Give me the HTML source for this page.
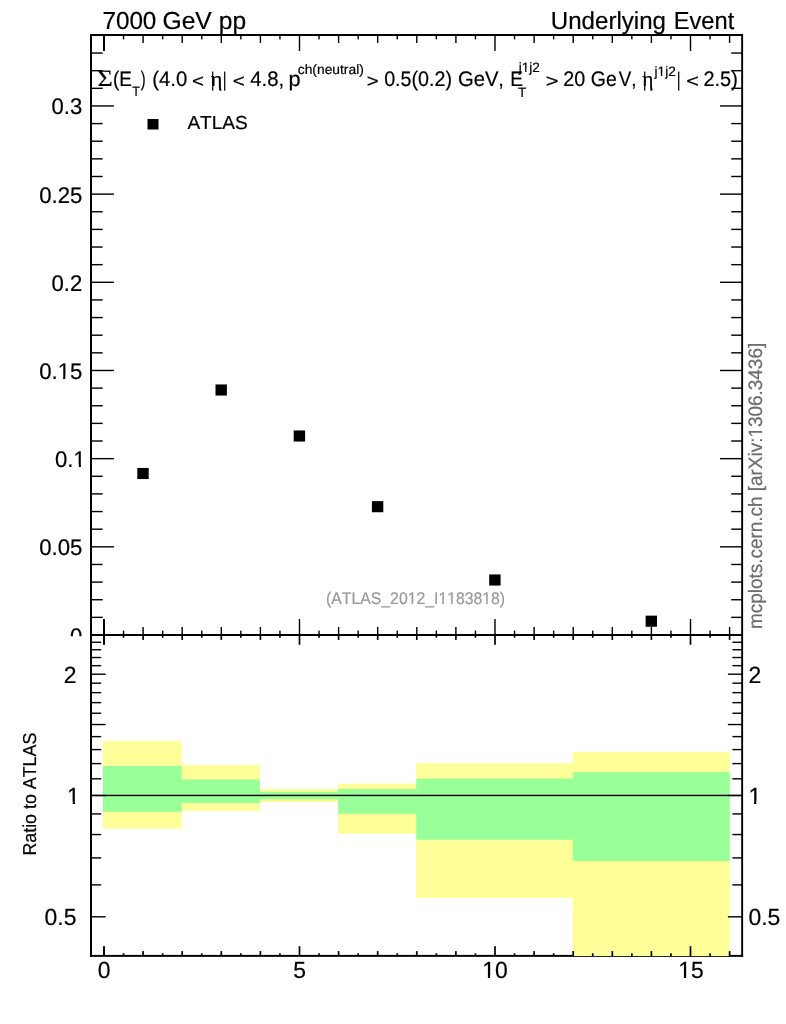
<!DOCTYPE html>
<html lang="en"><head><meta charset="utf-8"><title>Underlying Event - 7000 GeV pp</title>
<style>
html,body{margin:0;padding:0;background:#fff;}
body{width:786px;height:1024px;overflow:hidden;}
svg{display:block;font-family:"Liberation Sans",sans-serif;}
svg text{white-space:pre;font-kerning:none;text-rendering:geometricPrecision;stroke-width:0.2px;}
</style></head><body>
<svg width="786" height="1024" viewBox="0 0 786 1024">
<rect x="0" y="0" width="786" height="1024" fill="#fff"/>
<defs><clipPath id="mc"><rect x="0" y="0" width="786" height="636.2"/></clipPath></defs>
<rect x="90.00" y="34.00" width="2.00" height="923.00" fill="#000"/>
<rect x="741.20" y="34.00" width="1.90" height="923.00" fill="#000"/>
<rect x="90.00" y="34.00" width="653.00" height="2.00" fill="#000"/>
<rect x="90.00" y="634.00" width="653.00" height="2.00" fill="#000"/>
<rect x="90.00" y="954.90" width="653.10" height="1.95" fill="#000"/>
<polygon fill="#ffff99" points="103.00,741.00 181.70,741.00 181.70,765.00 259.90,765.00 259.90,788.90 338.10,788.90 338.10,783.70 416.30,783.70 416.30,763.20 572.70,763.20 572.70,752.10 729.80,752.10 729.80,956.00 572.70,956.00 572.70,897.90 416.30,897.90 416.30,833.80 338.10,833.80 338.10,801.90 259.90,801.90 259.90,810.90 181.70,810.90 181.70,828.80 103.00,828.80"/>
<polygon fill="#99ff99" points="103.00,766.00 181.70,766.00 181.70,779.60 259.90,779.60 259.90,791.70 338.10,791.70 338.10,788.90 416.30,788.90 416.30,778.40 572.70,778.40 572.70,772.20 729.80,772.20 729.80,860.90 572.70,860.90 572.70,839.80 416.30,839.80 416.30,813.80 338.10,813.80 338.10,799.20 259.90,799.20 259.90,802.90 181.70,802.90 181.70,811.70 103.00,811.70"/>
<rect x="91.00" y="794.75" width="651.00" height="1.40" fill="#000"/>
<rect x="103.00" y="35.00" width="2.00" height="16.00" fill="#000"/>
<rect x="103.00" y="619.00" width="2.00" height="16.00" fill="#000"/>
<rect x="103.00" y="635.00" width="2.00" height="9.80" fill="#000"/>
<rect x="103.00" y="946.20" width="2.00" height="9.80" fill="#000"/>
<rect x="122.85" y="35.00" width="1.40" height="4.40" fill="#000"/>
<rect x="122.85" y="630.60" width="1.40" height="4.40" fill="#000"/>
<rect x="122.70" y="635.00" width="1.70" height="2.70" fill="#000"/>
<rect x="122.70" y="953.30" width="1.70" height="2.70" fill="#000"/>
<rect x="142.40" y="35.00" width="1.40" height="8.00" fill="#000"/>
<rect x="142.40" y="627.00" width="1.40" height="8.00" fill="#000"/>
<rect x="142.25" y="635.00" width="1.70" height="4.90" fill="#000"/>
<rect x="142.25" y="951.10" width="1.70" height="4.90" fill="#000"/>
<rect x="161.95" y="35.00" width="1.40" height="4.40" fill="#000"/>
<rect x="161.95" y="630.60" width="1.40" height="4.40" fill="#000"/>
<rect x="161.80" y="635.00" width="1.70" height="2.70" fill="#000"/>
<rect x="161.80" y="953.30" width="1.70" height="2.70" fill="#000"/>
<rect x="181.50" y="35.00" width="1.40" height="8.00" fill="#000"/>
<rect x="181.50" y="627.00" width="1.40" height="8.00" fill="#000"/>
<rect x="181.35" y="635.00" width="1.70" height="4.90" fill="#000"/>
<rect x="181.35" y="951.10" width="1.70" height="4.90" fill="#000"/>
<rect x="201.05" y="35.00" width="1.40" height="4.40" fill="#000"/>
<rect x="201.05" y="630.60" width="1.40" height="4.40" fill="#000"/>
<rect x="200.90" y="635.00" width="1.70" height="2.70" fill="#000"/>
<rect x="200.90" y="953.30" width="1.70" height="2.70" fill="#000"/>
<rect x="220.60" y="35.00" width="1.40" height="8.00" fill="#000"/>
<rect x="220.60" y="627.00" width="1.40" height="8.00" fill="#000"/>
<rect x="220.45" y="635.00" width="1.70" height="4.90" fill="#000"/>
<rect x="220.45" y="951.10" width="1.70" height="4.90" fill="#000"/>
<rect x="240.15" y="35.00" width="1.40" height="4.40" fill="#000"/>
<rect x="240.15" y="630.60" width="1.40" height="4.40" fill="#000"/>
<rect x="240.00" y="635.00" width="1.70" height="2.70" fill="#000"/>
<rect x="240.00" y="953.30" width="1.70" height="2.70" fill="#000"/>
<rect x="259.70" y="35.00" width="1.40" height="8.00" fill="#000"/>
<rect x="259.70" y="627.00" width="1.40" height="8.00" fill="#000"/>
<rect x="259.55" y="635.00" width="1.70" height="4.90" fill="#000"/>
<rect x="259.55" y="951.10" width="1.70" height="4.90" fill="#000"/>
<rect x="279.25" y="35.00" width="1.40" height="4.40" fill="#000"/>
<rect x="279.25" y="630.60" width="1.40" height="4.40" fill="#000"/>
<rect x="279.10" y="635.00" width="1.70" height="2.70" fill="#000"/>
<rect x="279.10" y="953.30" width="1.70" height="2.70" fill="#000"/>
<rect x="298.80" y="35.00" width="1.40" height="16.00" fill="#000"/>
<rect x="298.80" y="619.00" width="1.40" height="16.00" fill="#000"/>
<rect x="298.65" y="635.00" width="1.70" height="9.80" fill="#000"/>
<rect x="298.65" y="946.20" width="1.70" height="9.80" fill="#000"/>
<rect x="318.35" y="35.00" width="1.40" height="4.40" fill="#000"/>
<rect x="318.35" y="630.60" width="1.40" height="4.40" fill="#000"/>
<rect x="318.20" y="635.00" width="1.70" height="2.70" fill="#000"/>
<rect x="318.20" y="953.30" width="1.70" height="2.70" fill="#000"/>
<rect x="337.90" y="35.00" width="1.40" height="8.00" fill="#000"/>
<rect x="337.90" y="627.00" width="1.40" height="8.00" fill="#000"/>
<rect x="337.75" y="635.00" width="1.70" height="4.90" fill="#000"/>
<rect x="337.75" y="951.10" width="1.70" height="4.90" fill="#000"/>
<rect x="357.45" y="35.00" width="1.40" height="4.40" fill="#000"/>
<rect x="357.45" y="630.60" width="1.40" height="4.40" fill="#000"/>
<rect x="357.30" y="635.00" width="1.70" height="2.70" fill="#000"/>
<rect x="357.30" y="953.30" width="1.70" height="2.70" fill="#000"/>
<rect x="377.00" y="35.00" width="1.40" height="8.00" fill="#000"/>
<rect x="377.00" y="627.00" width="1.40" height="8.00" fill="#000"/>
<rect x="376.85" y="635.00" width="1.70" height="4.90" fill="#000"/>
<rect x="376.85" y="951.10" width="1.70" height="4.90" fill="#000"/>
<rect x="396.55" y="35.00" width="1.40" height="4.40" fill="#000"/>
<rect x="396.55" y="630.60" width="1.40" height="4.40" fill="#000"/>
<rect x="396.40" y="635.00" width="1.70" height="2.70" fill="#000"/>
<rect x="396.40" y="953.30" width="1.70" height="2.70" fill="#000"/>
<rect x="416.10" y="35.00" width="1.40" height="8.00" fill="#000"/>
<rect x="416.10" y="627.00" width="1.40" height="8.00" fill="#000"/>
<rect x="415.95" y="635.00" width="1.70" height="4.90" fill="#000"/>
<rect x="415.95" y="951.10" width="1.70" height="4.90" fill="#000"/>
<rect x="435.65" y="35.00" width="1.40" height="4.40" fill="#000"/>
<rect x="435.65" y="630.60" width="1.40" height="4.40" fill="#000"/>
<rect x="435.50" y="635.00" width="1.70" height="2.70" fill="#000"/>
<rect x="435.50" y="953.30" width="1.70" height="2.70" fill="#000"/>
<rect x="455.20" y="35.00" width="1.40" height="8.00" fill="#000"/>
<rect x="455.20" y="627.00" width="1.40" height="8.00" fill="#000"/>
<rect x="455.05" y="635.00" width="1.70" height="4.90" fill="#000"/>
<rect x="455.05" y="951.10" width="1.70" height="4.90" fill="#000"/>
<rect x="474.75" y="35.00" width="1.40" height="4.40" fill="#000"/>
<rect x="474.75" y="630.60" width="1.40" height="4.40" fill="#000"/>
<rect x="474.60" y="635.00" width="1.70" height="2.70" fill="#000"/>
<rect x="474.60" y="953.30" width="1.70" height="2.70" fill="#000"/>
<rect x="494.30" y="35.00" width="1.40" height="16.00" fill="#000"/>
<rect x="494.30" y="619.00" width="1.40" height="16.00" fill="#000"/>
<rect x="494.15" y="635.00" width="1.70" height="9.80" fill="#000"/>
<rect x="494.15" y="946.20" width="1.70" height="9.80" fill="#000"/>
<rect x="513.85" y="35.00" width="1.40" height="4.40" fill="#000"/>
<rect x="513.85" y="630.60" width="1.40" height="4.40" fill="#000"/>
<rect x="513.70" y="635.00" width="1.70" height="2.70" fill="#000"/>
<rect x="513.70" y="953.30" width="1.70" height="2.70" fill="#000"/>
<rect x="533.40" y="35.00" width="1.40" height="8.00" fill="#000"/>
<rect x="533.40" y="627.00" width="1.40" height="8.00" fill="#000"/>
<rect x="533.25" y="635.00" width="1.70" height="4.90" fill="#000"/>
<rect x="533.25" y="951.10" width="1.70" height="4.90" fill="#000"/>
<rect x="552.95" y="35.00" width="1.40" height="4.40" fill="#000"/>
<rect x="552.95" y="630.60" width="1.40" height="4.40" fill="#000"/>
<rect x="552.80" y="635.00" width="1.70" height="2.70" fill="#000"/>
<rect x="552.80" y="953.30" width="1.70" height="2.70" fill="#000"/>
<rect x="572.50" y="35.00" width="1.40" height="8.00" fill="#000"/>
<rect x="572.50" y="627.00" width="1.40" height="8.00" fill="#000"/>
<rect x="572.35" y="635.00" width="1.70" height="4.90" fill="#000"/>
<rect x="572.35" y="951.10" width="1.70" height="4.90" fill="#000"/>
<rect x="592.05" y="35.00" width="1.40" height="4.40" fill="#000"/>
<rect x="592.05" y="630.60" width="1.40" height="4.40" fill="#000"/>
<rect x="591.90" y="635.00" width="1.70" height="2.70" fill="#000"/>
<rect x="591.90" y="953.30" width="1.70" height="2.70" fill="#000"/>
<rect x="611.60" y="35.00" width="1.40" height="8.00" fill="#000"/>
<rect x="611.60" y="627.00" width="1.40" height="8.00" fill="#000"/>
<rect x="611.45" y="635.00" width="1.70" height="4.90" fill="#000"/>
<rect x="611.45" y="951.10" width="1.70" height="4.90" fill="#000"/>
<rect x="631.15" y="35.00" width="1.40" height="4.40" fill="#000"/>
<rect x="631.15" y="630.60" width="1.40" height="4.40" fill="#000"/>
<rect x="631.00" y="635.00" width="1.70" height="2.70" fill="#000"/>
<rect x="631.00" y="953.30" width="1.70" height="2.70" fill="#000"/>
<rect x="650.70" y="35.00" width="1.40" height="8.00" fill="#000"/>
<rect x="650.70" y="627.00" width="1.40" height="8.00" fill="#000"/>
<rect x="650.55" y="635.00" width="1.70" height="4.90" fill="#000"/>
<rect x="650.55" y="951.10" width="1.70" height="4.90" fill="#000"/>
<rect x="670.25" y="35.00" width="1.40" height="4.40" fill="#000"/>
<rect x="670.25" y="630.60" width="1.40" height="4.40" fill="#000"/>
<rect x="670.10" y="635.00" width="1.70" height="2.70" fill="#000"/>
<rect x="670.10" y="953.30" width="1.70" height="2.70" fill="#000"/>
<rect x="689.80" y="35.00" width="1.40" height="16.00" fill="#000"/>
<rect x="689.80" y="619.00" width="1.40" height="16.00" fill="#000"/>
<rect x="689.65" y="635.00" width="1.70" height="9.80" fill="#000"/>
<rect x="689.65" y="946.20" width="1.70" height="9.80" fill="#000"/>
<rect x="709.35" y="35.00" width="1.40" height="4.40" fill="#000"/>
<rect x="709.35" y="630.60" width="1.40" height="4.40" fill="#000"/>
<rect x="709.20" y="635.00" width="1.70" height="2.70" fill="#000"/>
<rect x="709.20" y="953.30" width="1.70" height="2.70" fill="#000"/>
<rect x="728.90" y="35.00" width="1.40" height="8.00" fill="#000"/>
<rect x="728.90" y="627.00" width="1.40" height="8.00" fill="#000"/>
<rect x="728.75" y="635.00" width="1.70" height="4.90" fill="#000"/>
<rect x="728.75" y="951.10" width="1.70" height="4.90" fill="#000"/>
<rect x="91.00" y="634.30" width="22.90" height="1.40" fill="#000"/>
<rect x="720.00" y="634.30" width="22.00" height="1.40" fill="#000"/>
<rect x="91.00" y="616.66" width="11.70" height="1.40" fill="#000"/>
<rect x="731.20" y="616.66" width="10.80" height="1.40" fill="#000"/>
<rect x="91.00" y="599.03" width="11.70" height="1.40" fill="#000"/>
<rect x="731.20" y="599.03" width="10.80" height="1.40" fill="#000"/>
<rect x="91.00" y="581.39" width="11.70" height="1.40" fill="#000"/>
<rect x="731.20" y="581.39" width="10.80" height="1.40" fill="#000"/>
<rect x="91.00" y="563.76" width="11.70" height="1.40" fill="#000"/>
<rect x="731.20" y="563.76" width="10.80" height="1.40" fill="#000"/>
<rect x="91.00" y="546.12" width="22.90" height="1.40" fill="#000"/>
<rect x="720.00" y="546.12" width="22.00" height="1.40" fill="#000"/>
<rect x="91.00" y="528.49" width="11.70" height="1.40" fill="#000"/>
<rect x="731.20" y="528.49" width="10.80" height="1.40" fill="#000"/>
<rect x="91.00" y="510.86" width="11.70" height="1.40" fill="#000"/>
<rect x="731.20" y="510.86" width="10.80" height="1.40" fill="#000"/>
<rect x="91.00" y="493.22" width="11.70" height="1.40" fill="#000"/>
<rect x="731.20" y="493.22" width="10.80" height="1.40" fill="#000"/>
<rect x="91.00" y="475.58" width="11.70" height="1.40" fill="#000"/>
<rect x="731.20" y="475.58" width="10.80" height="1.40" fill="#000"/>
<rect x="91.00" y="457.95" width="22.90" height="1.40" fill="#000"/>
<rect x="720.00" y="457.95" width="22.00" height="1.40" fill="#000"/>
<rect x="91.00" y="440.31" width="11.70" height="1.40" fill="#000"/>
<rect x="731.20" y="440.31" width="10.80" height="1.40" fill="#000"/>
<rect x="91.00" y="422.68" width="11.70" height="1.40" fill="#000"/>
<rect x="731.20" y="422.68" width="10.80" height="1.40" fill="#000"/>
<rect x="91.00" y="405.05" width="11.70" height="1.40" fill="#000"/>
<rect x="731.20" y="405.05" width="10.80" height="1.40" fill="#000"/>
<rect x="91.00" y="387.41" width="11.70" height="1.40" fill="#000"/>
<rect x="731.20" y="387.41" width="10.80" height="1.40" fill="#000"/>
<rect x="91.00" y="369.78" width="22.90" height="1.40" fill="#000"/>
<rect x="720.00" y="369.78" width="22.00" height="1.40" fill="#000"/>
<rect x="91.00" y="352.14" width="11.70" height="1.40" fill="#000"/>
<rect x="731.20" y="352.14" width="10.80" height="1.40" fill="#000"/>
<rect x="91.00" y="334.50" width="11.70" height="1.40" fill="#000"/>
<rect x="731.20" y="334.50" width="10.80" height="1.40" fill="#000"/>
<rect x="91.00" y="316.87" width="11.70" height="1.40" fill="#000"/>
<rect x="731.20" y="316.87" width="10.80" height="1.40" fill="#000"/>
<rect x="91.00" y="299.24" width="11.70" height="1.40" fill="#000"/>
<rect x="731.20" y="299.24" width="10.80" height="1.40" fill="#000"/>
<rect x="91.00" y="281.60" width="22.90" height="1.40" fill="#000"/>
<rect x="720.00" y="281.60" width="22.00" height="1.40" fill="#000"/>
<rect x="91.00" y="263.97" width="11.70" height="1.40" fill="#000"/>
<rect x="731.20" y="263.97" width="10.80" height="1.40" fill="#000"/>
<rect x="91.00" y="246.33" width="11.70" height="1.40" fill="#000"/>
<rect x="731.20" y="246.33" width="10.80" height="1.40" fill="#000"/>
<rect x="91.00" y="228.69" width="11.70" height="1.40" fill="#000"/>
<rect x="731.20" y="228.69" width="10.80" height="1.40" fill="#000"/>
<rect x="91.00" y="211.06" width="11.70" height="1.40" fill="#000"/>
<rect x="731.20" y="211.06" width="10.80" height="1.40" fill="#000"/>
<rect x="91.00" y="193.43" width="22.90" height="1.40" fill="#000"/>
<rect x="720.00" y="193.43" width="22.00" height="1.40" fill="#000"/>
<rect x="91.00" y="175.79" width="11.70" height="1.40" fill="#000"/>
<rect x="731.20" y="175.79" width="10.80" height="1.40" fill="#000"/>
<rect x="91.00" y="158.15" width="11.70" height="1.40" fill="#000"/>
<rect x="731.20" y="158.15" width="10.80" height="1.40" fill="#000"/>
<rect x="91.00" y="140.52" width="11.70" height="1.40" fill="#000"/>
<rect x="731.20" y="140.52" width="10.80" height="1.40" fill="#000"/>
<rect x="91.00" y="122.89" width="11.70" height="1.40" fill="#000"/>
<rect x="731.20" y="122.89" width="10.80" height="1.40" fill="#000"/>
<rect x="91.00" y="105.25" width="22.90" height="1.40" fill="#000"/>
<rect x="720.00" y="105.25" width="22.00" height="1.40" fill="#000"/>
<rect x="91.00" y="87.62" width="11.70" height="1.40" fill="#000"/>
<rect x="731.20" y="87.62" width="10.80" height="1.40" fill="#000"/>
<rect x="91.00" y="69.98" width="11.70" height="1.40" fill="#000"/>
<rect x="731.20" y="69.98" width="10.80" height="1.40" fill="#000"/>
<rect x="91.00" y="52.34" width="11.70" height="1.40" fill="#000"/>
<rect x="731.20" y="52.34" width="10.80" height="1.40" fill="#000"/>
<rect x="91.00" y="916.10" width="14.70" height="1.40" fill="#000"/>
<rect x="727.90" y="916.10" width="14.10" height="1.40" fill="#000"/>
<rect x="91.00" y="884.19" width="10.20" height="1.40" fill="#000"/>
<rect x="732.40" y="884.19" width="9.60" height="1.40" fill="#000"/>
<rect x="91.00" y="857.22" width="10.20" height="1.40" fill="#000"/>
<rect x="732.40" y="857.22" width="9.60" height="1.40" fill="#000"/>
<rect x="91.00" y="833.85" width="10.20" height="1.40" fill="#000"/>
<rect x="732.40" y="833.85" width="9.60" height="1.40" fill="#000"/>
<rect x="91.00" y="813.24" width="10.20" height="1.40" fill="#000"/>
<rect x="732.40" y="813.24" width="9.60" height="1.40" fill="#000"/>
<rect x="91.00" y="794.80" width="14.70" height="1.40" fill="#000"/>
<rect x="727.90" y="794.80" width="14.10" height="1.40" fill="#000"/>
<rect x="91.00" y="778.12" width="10.20" height="1.40" fill="#000"/>
<rect x="732.40" y="778.12" width="9.60" height="1.40" fill="#000"/>
<rect x="91.00" y="762.89" width="10.20" height="1.40" fill="#000"/>
<rect x="732.40" y="762.89" width="9.60" height="1.40" fill="#000"/>
<rect x="91.00" y="748.89" width="10.20" height="1.40" fill="#000"/>
<rect x="732.40" y="748.89" width="9.60" height="1.40" fill="#000"/>
<rect x="91.00" y="735.92" width="10.20" height="1.40" fill="#000"/>
<rect x="732.40" y="735.92" width="9.60" height="1.40" fill="#000"/>
<rect x="91.00" y="723.84" width="14.70" height="1.40" fill="#000"/>
<rect x="727.90" y="723.84" width="14.10" height="1.40" fill="#000"/>
<rect x="91.00" y="712.55" width="10.20" height="1.40" fill="#000"/>
<rect x="732.40" y="712.55" width="9.60" height="1.40" fill="#000"/>
<rect x="91.00" y="701.94" width="10.20" height="1.40" fill="#000"/>
<rect x="732.40" y="701.94" width="9.60" height="1.40" fill="#000"/>
<rect x="91.00" y="691.94" width="10.20" height="1.40" fill="#000"/>
<rect x="732.40" y="691.94" width="9.60" height="1.40" fill="#000"/>
<rect x="91.00" y="682.48" width="10.20" height="1.40" fill="#000"/>
<rect x="732.40" y="682.48" width="9.60" height="1.40" fill="#000"/>
<rect x="91.00" y="673.50" width="14.70" height="1.40" fill="#000"/>
<rect x="727.90" y="673.50" width="14.10" height="1.40" fill="#000"/>
<rect x="91.00" y="664.96" width="10.20" height="1.40" fill="#000"/>
<rect x="732.40" y="664.96" width="9.60" height="1.40" fill="#000"/>
<rect x="91.00" y="656.82" width="10.20" height="1.40" fill="#000"/>
<rect x="732.40" y="656.82" width="9.60" height="1.40" fill="#000"/>
<rect x="91.00" y="649.04" width="10.20" height="1.40" fill="#000"/>
<rect x="732.40" y="649.04" width="9.60" height="1.40" fill="#000"/>
<rect x="91.00" y="641.59" width="10.20" height="1.40" fill="#000"/>
<rect x="732.40" y="641.59" width="9.60" height="1.40" fill="#000"/>
<rect x="137.30" y="467.95" width="11.40" height="11.10" fill="#000"/>
<rect x="215.50" y="384.45" width="11.40" height="11.10" fill="#000"/>
<rect x="293.70" y="430.45" width="11.40" height="11.10" fill="#000"/>
<rect x="371.90" y="501.15" width="11.40" height="11.10" fill="#000"/>
<rect x="489.20" y="574.45" width="11.40" height="11.10" fill="#000"/>
<rect x="645.60" y="615.65" width="11.40" height="11.10" fill="#000"/>
<rect x="147.50" y="119.00" width="11.00" height="10.50" fill="#000"/>
<text x="82.30" y="114.45" font-size="22.60" text-anchor="end" fill="#000" stroke="#000" textLength="30.79" lengthAdjust="spacingAndGlyphs" clip-path="url(#mc)">0.3</text>
<text x="82.30" y="202.62" font-size="22.60" text-anchor="end" fill="#000" stroke="#000" textLength="43.11" lengthAdjust="spacingAndGlyphs" clip-path="url(#mc)">0.25</text>
<text x="82.30" y="290.80" font-size="22.60" text-anchor="end" fill="#000" stroke="#000" textLength="30.79" lengthAdjust="spacingAndGlyphs" clip-path="url(#mc)">0.2</text>
<text x="82.30" y="378.98" font-size="22.60" text-anchor="end" fill="#000" stroke="#000" textLength="43.11" lengthAdjust="spacingAndGlyphs" clip-path="url(#mc)">0.15</text>
<rect x="58.15" y="376.49" width="4.96" height="3.49" fill="#fff"/>
<rect x="65.31" y="376.49" width="4.91" height="3.49" fill="#fff"/>
<text x="85.70" y="467.15" font-size="22.60" text-anchor="end" fill="#000" stroke="#000" textLength="30.79" lengthAdjust="spacingAndGlyphs" clip-path="url(#mc)">0.1</text>
<rect x="73.87" y="464.66" width="4.96" height="3.49" fill="#fff"/>
<rect x="81.03" y="464.66" width="4.91" height="3.49" fill="#fff"/>
<text x="82.30" y="555.33" font-size="22.60" text-anchor="end" fill="#000" stroke="#000" textLength="43.11" lengthAdjust="spacingAndGlyphs" clip-path="url(#mc)">0.05</text>
<text x="82.30" y="643.50" font-size="22.60" text-anchor="end" fill="#000" stroke="#000" textLength="12.32" lengthAdjust="spacingAndGlyphs" clip-path="url(#mc)">0</text>
<text x="76.40" y="682.70" font-size="23.40" text-anchor="end" fill="#000" stroke="#000" textLength="12.75" lengthAdjust="spacingAndGlyphs">2</text>
<text x="748.40" y="682.70" font-size="23.40" text-anchor="start" fill="#000" stroke="#000" textLength="12.75" lengthAdjust="spacingAndGlyphs">2</text>
<text x="79.80" y="804.00" font-size="23.40" text-anchor="end" fill="#000" stroke="#000" textLength="12.75" lengthAdjust="spacingAndGlyphs">1</text>
<rect x="67.59" y="801.45" width="5.10" height="3.55" fill="#fff"/>
<rect x="74.96" y="801.45" width="5.04" height="3.55" fill="#fff"/>
<text x="748.40" y="804.00" font-size="23.40" text-anchor="start" fill="#000" stroke="#000" textLength="12.75" lengthAdjust="spacingAndGlyphs">1</text>
<rect x="748.95" y="801.45" width="5.10" height="3.55" fill="#fff"/>
<rect x="756.31" y="801.45" width="5.04" height="3.55" fill="#fff"/>
<text x="76.40" y="925.30" font-size="23.40" text-anchor="end" fill="#000" stroke="#000" textLength="31.88" lengthAdjust="spacingAndGlyphs">0.5</text>
<text x="748.40" y="925.30" font-size="23.40" text-anchor="start" fill="#000" stroke="#000" textLength="31.88" lengthAdjust="spacingAndGlyphs">0.5</text>
<text x="104.00" y="977.90" font-size="23.40" text-anchor="middle" fill="#000" stroke="#000" textLength="12.75" lengthAdjust="spacingAndGlyphs">0</text>
<text x="299.50" y="977.90" font-size="23.40" text-anchor="middle" fill="#000" stroke="#000" textLength="12.75" lengthAdjust="spacingAndGlyphs">5</text>
<text x="495.00" y="977.90" font-size="23.40" text-anchor="middle" fill="#000" stroke="#000" textLength="25.51" lengthAdjust="spacingAndGlyphs">10</text>
<rect x="482.79" y="975.35" width="5.10" height="3.55" fill="#fff"/>
<rect x="490.16" y="975.35" width="5.04" height="3.55" fill="#fff"/>
<text x="691.00" y="977.90" font-size="23.40" text-anchor="middle" fill="#000" stroke="#000" textLength="25.51" lengthAdjust="spacingAndGlyphs">15</text>
<rect x="678.79" y="975.35" width="5.10" height="3.55" fill="#fff"/>
<rect x="686.16" y="975.35" width="5.04" height="3.55" fill="#fff"/>
<text x="187.40" y="129.40" font-size="18.9" fill="#000" stroke="#000" textLength="60.41" lengthAdjust="spacingAndGlyphs">ATLAS</text>
<text x="102.42" y="29.00" font-size="24.6" fill="#000" stroke="#000" textLength="53.95" lengthAdjust="spacingAndGlyphs">7000</text>
<text x="162.50" y="29.00" font-size="24.6" fill="#000" stroke="#000" textLength="49.31" lengthAdjust="spacingAndGlyphs">GeV</text>
<text x="218.80" y="29.00" font-size="24.6" fill="#000" stroke="#000" textLength="27.38" lengthAdjust="spacingAndGlyphs">pp</text>
<text x="550.84" y="29.00" font-size="24.6" fill="#000" stroke="#000" textLength="115.11" lengthAdjust="spacingAndGlyphs">Underlying</text>
<text x="673.67" y="29.00" font-size="24.6" fill="#000" stroke="#000" textLength="60.55" lengthAdjust="spacingAndGlyphs">Event</text>
<text x="326.06" y="604.20" font-size="16.8" fill="#999" stroke="#999" textLength="179.07" lengthAdjust="spacingAndGlyphs">(ATLAS_2012_I1183818)</text>
<rect x="408.08" y="602.14" width="3.45" height="3.06" fill="#fff"/>
<rect x="413.17" y="602.14" width="3.24" height="3.06" fill="#fff"/>
<rect x="438.81" y="602.14" width="3.45" height="3.06" fill="#fff"/>
<rect x="443.90" y="602.14" width="3.24" height="3.06" fill="#fff"/>
<rect x="447.59" y="602.14" width="3.45" height="3.06" fill="#fff"/>
<rect x="452.68" y="602.14" width="3.24" height="3.06" fill="#fff"/>
<rect x="482.72" y="602.14" width="3.45" height="3.06" fill="#fff"/>
<rect x="487.80" y="602.14" width="3.24" height="3.06" fill="#fff"/>
<text transform="translate(761.90,627.90) rotate(-90)" x="-1.17" y="0" font-size="19.4" fill="#6c6c6c" stroke="#6c6c6c" textLength="286.23" lengthAdjust="spacingAndGlyphs">mcplots.cern.ch [arXiv:1306.3436]</text>
<g transform="translate(761.90,627.90) rotate(-90)"><rect x="190.95" y="-2.25" width="4.00" height="3.25" fill="#fff"/><rect x="196.86" y="-2.25" width="3.77" height="3.25" fill="#fff"/></g>
<text transform="translate(36.20,854.20) rotate(-90)" x="-1.43" y="0" font-size="18.7" fill="#000" stroke="#000" textLength="122.97" lengthAdjust="spacingAndGlyphs">Ratio to ATLAS</text>
<text x="97.48" y="85.80" font-size="23.2" fill="#000" stroke="#000" font-family="Liberation Serif, serif" stroke-width="0" textLength="15.26" lengthAdjust="spacingAndGlyphs">Σ</text>
<text x="112.93" y="85.80" font-size="21.0" fill="#000" stroke="#000" textLength="18.90" lengthAdjust="spacingAndGlyphs">(E</text>
<text x="132.32" y="96.40" font-size="13.6" fill="#000" stroke="#000" textLength="7.66" lengthAdjust="spacingAndGlyphs">T</text>
<text x="140.83" y="85.80" font-size="21.0" fill="#000" stroke="#000" textLength="4.87" lengthAdjust="spacingAndGlyphs">)</text>
<text x="152.24" y="85.80" font-size="21.0" fill="#000" stroke="#000" textLength="35.01" lengthAdjust="spacingAndGlyphs">(4.0</text>
<text x="192.09" y="87.10" font-size="18.0" fill="#000" stroke="#000" textLength="11.93" lengthAdjust="spacingAndGlyphs">&lt;</text>
<text x="210.78" y="86.10" font-size="21.0" fill="#000" stroke="#000" font-family="Liberation Serif, serif" stroke-width="0" textLength="11.67" lengthAdjust="spacingAndGlyphs">η</text>
<text x="210.43" y="85.90" font-size="20.4" fill="#000" stroke="#000" font-family="Liberation Serif, serif" stroke-width="0" textLength="4.27" lengthAdjust="spacingAndGlyphs">|</text>
<text x="222.43" y="85.90" font-size="20.4" fill="#000" stroke="#000" font-family="Liberation Serif, serif" stroke-width="0" textLength="4.27" lengthAdjust="spacingAndGlyphs">|</text>
<text x="232.88" y="87.10" font-size="18.0" fill="#000" stroke="#000" textLength="12.05" lengthAdjust="spacingAndGlyphs">&lt;</text>
<text x="250.31" y="85.80" font-size="21.0" fill="#000" stroke="#000" textLength="33.86" lengthAdjust="spacingAndGlyphs">4.8,</text>
<text x="288.56" y="85.80" font-size="21.0" fill="#000" stroke="#000" textLength="12.05" lengthAdjust="spacingAndGlyphs">p</text>
<text x="297.79" y="73.90" font-size="13.6" fill="#000" stroke="#000" textLength="66.05" lengthAdjust="spacingAndGlyphs">ch(neutral)</text>
<text x="366.89" y="87.10" font-size="18.0" fill="#000" stroke="#000" textLength="11.93" lengthAdjust="spacingAndGlyphs">&gt;</text>
<text x="384.15" y="85.80" font-size="21.0" fill="#000" stroke="#000" textLength="67.97" lengthAdjust="spacingAndGlyphs">0.5(0.2)</text>
<text x="457.94" y="85.80" font-size="21.0" fill="#000" stroke="#000" textLength="46.03" lengthAdjust="spacingAndGlyphs">GeV,</text>
<text x="510.25" y="85.80" font-size="21.0" fill="#000" stroke="#000" textLength="12.79" lengthAdjust="spacingAndGlyphs">E</text>
<text x="518.80" y="72.10" font-size="13.6" fill="#000" stroke="#000" textLength="21.06" lengthAdjust="spacingAndGlyphs">j1j2</text>
<rect x="522.03" y="70.28" width="3.05" height="2.82" fill="#fff"/>
<rect x="526.52" y="70.28" width="2.87" height="2.82" fill="#fff"/>
<text x="517.90" y="96.50" font-size="13.6" fill="#000" stroke="#000" textLength="8.31" lengthAdjust="spacingAndGlyphs">T</text>
<text x="545.73" y="87.10" font-size="18.0" fill="#000" stroke="#000" textLength="12.76" lengthAdjust="spacingAndGlyphs">&gt;</text>
<text x="563.16" y="85.80" font-size="21.0" fill="#000" stroke="#000" textLength="21.97" lengthAdjust="spacingAndGlyphs">20</text>
<text x="590.77" y="85.80" font-size="21.0" fill="#000" stroke="#000" textLength="25.94" lengthAdjust="spacingAndGlyphs">Ge</text>
<text x="618.80" y="85.80" font-size="21.0" fill="#000" stroke="#000" textLength="17.74" lengthAdjust="spacingAndGlyphs">V,</text>
<text x="642.39" y="86.10" font-size="21.0" fill="#000" stroke="#000" font-family="Liberation Serif, serif" stroke-width="0" textLength="11.21" lengthAdjust="spacingAndGlyphs">η</text>
<text x="642.43" y="85.90" font-size="20.4" fill="#000" stroke="#000" font-family="Liberation Serif, serif" stroke-width="0" textLength="4.27" lengthAdjust="spacingAndGlyphs">|</text>
<text x="654.60" y="75.80" font-size="13.6" fill="#000" stroke="#000" textLength="21.16" lengthAdjust="spacingAndGlyphs">j1j2</text>
<rect x="657.86" y="73.98" width="3.06" height="2.82" fill="#fff"/>
<rect x="662.36" y="73.98" width="2.88" height="2.82" fill="#fff"/>
<text x="676.43" y="85.90" font-size="20.4" fill="#000" stroke="#000" font-family="Liberation Serif, serif" stroke-width="0" textLength="4.27" lengthAdjust="spacingAndGlyphs">|</text>
<text x="686.34" y="87.10" font-size="18.0" fill="#000" stroke="#000" textLength="12.64" lengthAdjust="spacingAndGlyphs">&lt;</text>
<text x="703.45" y="85.80" font-size="21.0" fill="#000" stroke="#000" textLength="34.38" lengthAdjust="spacingAndGlyphs">2.5)</text>
</svg>
</body></html>
